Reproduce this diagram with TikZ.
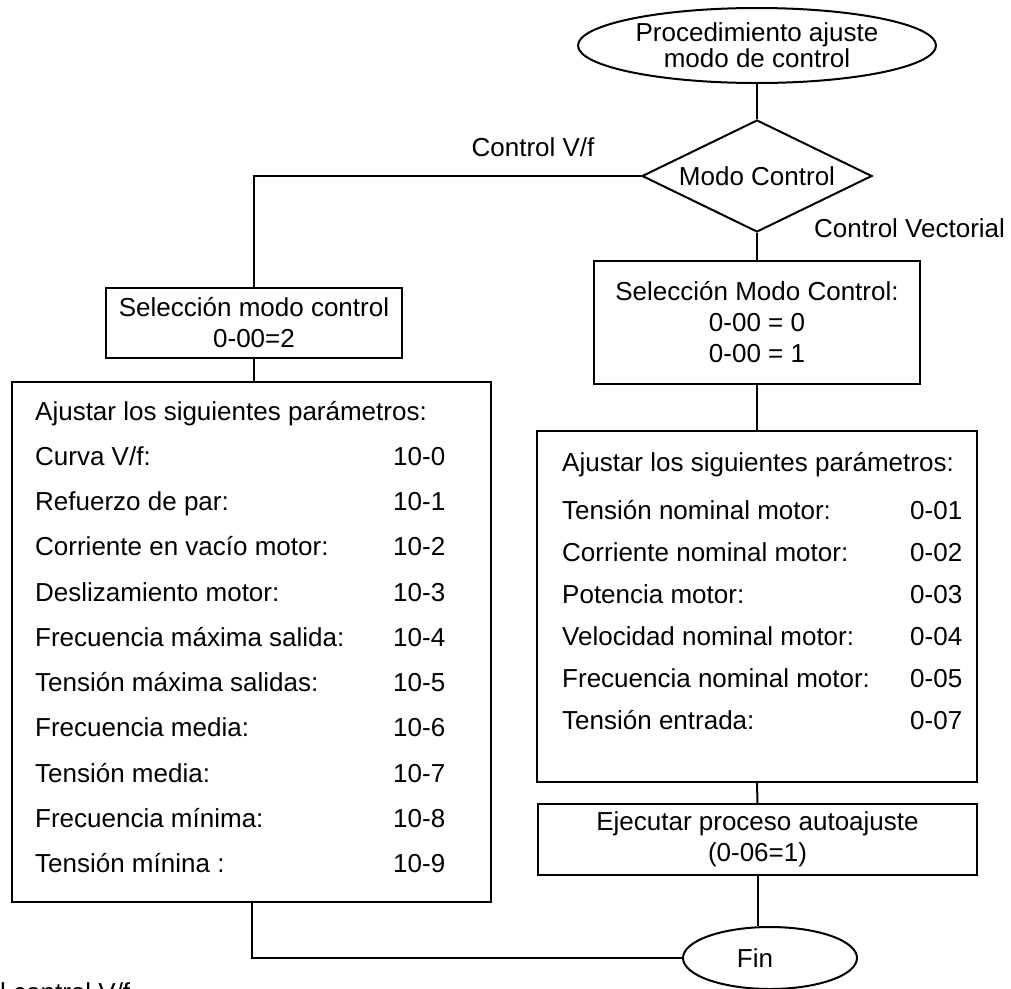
\documentclass[tikz,border=0pt]{standalone}
\usepackage{fontspec}
\setmainfont{Liberation Sans}
\usetikzlibrary{shapes.geometric}

\begin{document}
\begin{tikzpicture}[x=1pt,y=-1pt,
  every node/.style={font=\fontsize{26}{31}\selectfont},
  line/.style={line width=2pt},
  box/.style={draw, line width=2pt, rectangle, inner sep=0pt, align=center},
  oval/.style={draw, line width=2pt, ellipse, inner sep=0pt, align=center},
  txt/.style={anchor=base west, inner sep=0pt},
  lbl/.style={anchor=base, inner sep=0pt},
]
\useasboundingbox (0,0) rectangle (1011,988);
\clip (0,0) rectangle (1011,988);

% start and decision
\node[oval, minimum width=358pt, minimum height=75pt,
      font=\fontsize{26}{26}\selectfont] (start) at (757,45.5)
      {Procedimiento ajuste\\modo de control};
\node[draw, line width=2pt, diamond, inner sep=0pt,
      minimum width=230pt, minimum height=112pt] (mode) at (757,176) {};
\node (modetext) at (mode.center) {Modo Control};
\node[lbl] (lvf) at (533,156) {Control V/f};
\node[txt] (lvec) at (814,237) {Control Vectorial};

% V/f branch
\node[box, minimum width=296pt, minimum height=70pt] (selL) at (254,323)
      {Selección modo control\\0-00=2};
\node[box, minimum width=479pt, minimum height=520pt] (parL) at (251.5,642) {};
\node[txt] (hL) at (35,420) {Ajustar los siguientes parámetros:};
\foreach \lab/\val [count=\i from 0] in {
    {Curva V/f:}/10-0,
    {Refuerzo de par:}/10-1,
    {Corriente en vacío motor:}/10-2,
    {Deslizamiento motor:}/10-3,
    {Frecuencia máxima salida:}/10-4,
    {Tensión máxima salidas:}/10-5,
    {Frecuencia media:}/10-6,
    {Tensión media:}/10-7,
    {Frecuencia mínima:}/10-8,
    {Tensión mínina :}/10-9}
{
  \node[txt] (pl\i) at (35,465+45.33*\i) {\lab};
  \node[txt] (vl\i) at (393,465+45.33*\i) {\val};
}

% vector branch
\node[box, minimum width=326pt, minimum height=123pt] (selR) at (757,322.5)
      {Selección Modo Control:\\0-00 = 0\\0-00 = 1};
\node[box, minimum width=440pt, minimum height=351pt] (parR) at (757,606.5) {};
\node[txt] (hR) at (562,471) {Ajustar los siguientes parámetros:};
\foreach \lab/\val [count=\i from 0] in {
    {Tensión nominal motor:}/0-01,
    {Corriente nominal motor:}/0-02,
    {Potencia motor:}/0-03,
    {Velocidad nominal motor:}/0-04,
    {Frecuencia nominal motor:}/0-05,
    {Tensión entrada:}/0-07}
{
  \node[txt] (pr\i) at (562,519+42*\i) {\lab};
  \node[txt] (vr\i) at (910,519+42*\i) {\val};
}
\node[box, minimum width=439pt, minimum height=71pt] (ejec) at (757.5,839.5)
      {Ejecutar proceso autoajuste\\(0-06=1)};

% end
\node[oval, minimum width=174pt, minimum height=62pt] (fin) at (770,958) {};
\node (fintext) at (755,958) {Fin};

% caption
\node[txt] (cap) at (0,1001) {l control V/f};

% connectors
\draw[line] (start.south) -- (mode.north);
\draw[line] (mode.west) -| (selL.north);
\draw[line] (selL.south) -- (selL.south |- parL.north);
\draw[line] (mode.south) -- (selR.north);
\draw[line] (selR.south) -- (parR.north);
\draw[line] (parR.south) -- (ejec.north);
\draw[line] (ejec.south) -- (ejec.south |- fin.north);
\draw[line] (parL.south) |- (fin.west);
\end{tikzpicture}
\end{document}
